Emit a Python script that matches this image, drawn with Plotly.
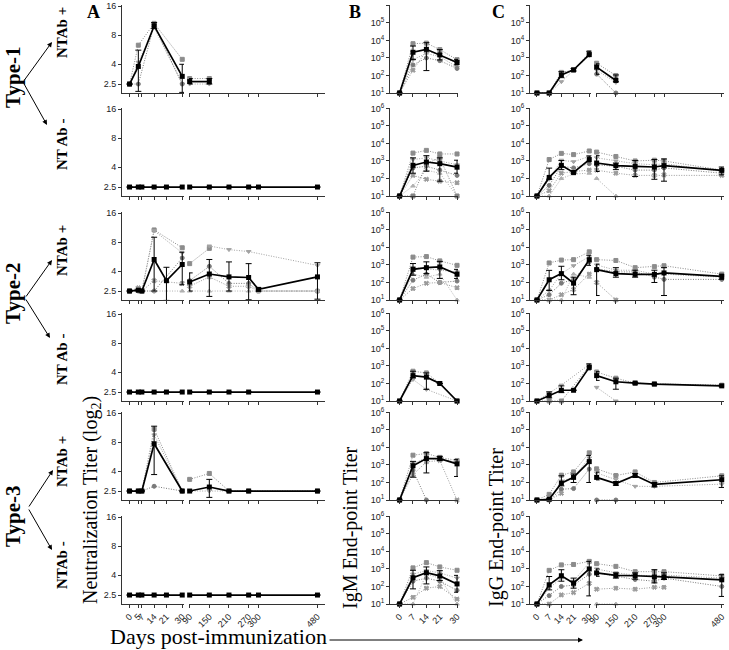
import math
import plotly.graph_objects as go

# days on the (broken) x axes
A_DAYS_L = [0, 5, 7, 14, 21, 30]
A_DAYS_R = [90, 150, 210, 270, 300, 480]
B_DAYS = [0, 7, 14, 21, 30]
C_DAYS_L = [0, 7, 14, 21, 30]
C_DAYS_R = [90, 150, 210, 270, 300, 480]

A_TICKS = ["2.5", "4", "8", "16"]
A_TICKVALS = [2.5, 4, 8, 16]
LOG_TICKVALS = [10, 100, 1000, 10000, 100000, 1000000]
LOG_TICKS = ["10<sup>1</sup>", "10<sup>2</sup>", "10<sup>3</sup>",
             "10<sup>4</sup>", "10<sup>5</sup>", "10<sup>6</sup>"]

ROW_NAMES = ["Type-1", "Type-2", "Type-3"]
NT_LABELS = ["NTAb +", "NT Ab -", "NTAb +", "NT Ab -", "NTAb +", "NTAb -"]

# ---------------- panel A : neutralization titer (log2) ----------------
A1_MEAN_L = [2.5, 3.8, None, 10.0, None, 3.0]
A1_LO_L = [2.5, 2.1, None, 9.4, None, 2.05]
A1_HI_L = [2.5, 5.6, None, 10.8, None, 4.0]
A1_MEAN_R = [2.65, 2.65, None, None, None, None]
A1_LO_R = [2.5, 2.5, None, None, None, None]
A1_HI_R = [2.85, 2.85, None, None, None, None]
A1_IND_L = [[2.5, 6.3, None, 10.6, None, 4.5],
            [2.5, 4.2, None, 9.6, None, 2.5],
            [2.5, 2.5, None, 10.2, None, 2.5]]
A1_IND_R = [[2.85, 2.85, None, None, None, None],
            [2.5, 2.5, None, None, None, None]]

A2_MEAN_L = [2.5, 2.5, 2.5, 2.5, 2.5, 2.5]
A2_MEAN_R = [2.5, 2.5, 2.5, 2.5, 2.5, 2.5]

A3_MEAN_L = [2.5, 2.55, 2.5, 5.3, 3.2, 4.7]
A3_LO_L = [2.5, 2.5, 2.5, 2.5, 2.0, 2.9]
A3_HI_L = [2.5, 2.6, 2.5, 9.0, 4.4, 6.3]
A3_MEAN_R = [3.1, 3.75, 3.5, 3.45, 2.6, 3.5]
A3_LO_R = [2.5, 2.2, 2.5, 2.03, 2.5, 2.06]
A3_HI_R = [3.85, 5.3, 5.0, 4.8, 2.7, 4.9]
A3_IND_L = [[2.5, 2.6, 2.5, 10.7, None, 7.0],
            [2.5, 2.5, 2.5, 10.5, None, 6.2],
            [2.5, 2.5, 2.5, 2.5, None, 5.5],
            [2.5, 2.7, 2.5, 3.2, None, 3.0],
            [2.5, 2.5, 2.5, 2.5, None, 2.5]]
A3_IND_R = [[4.8, 6.9, None, None, None, None],
            [None, 7.3, 6.7, 6.4, None, 4.6],
            [3.2, 4.5, 3.0, 3.0, 2.5, 2.5],
            [2.8, 3.5, 2.8, 2.8, 2.5, 2.5],
            [2.5, 2.5, 2.5, 2.5, 2.5, 2.5]]

A4_MEAN_L = [2.5, 2.5, 2.5, 2.5, 2.5, 2.5]
A4_MEAN_R = [2.5, 2.5, 2.5, 2.5, None, 2.5]

A5_MEAN_L = [2.5, 2.5, 2.5, 7.7, None, 2.5]
A5_LO_L = [2.5, 2.5, 2.5, 3.7, None, 2.5]
A5_HI_L = [2.5, 2.5, 2.5, 11.7, None, 2.5]
A5_MEAN_R = [2.5, 2.75, 2.5, 2.5, None, 2.5]
A5_LO_R = [2.5, 2.15, 2.5, 2.5, None, 2.5]
A5_HI_R = [2.5, 3.3, 2.5, 2.5, None, 2.5]
A5_IND_L = [[2.5, 2.5, 2.5, 10.9, None, 2.5],
            [2.5, 2.5, 2.5, 9.5, None, 2.5],
            [2.5, 2.5, 2.5, 2.8, None, 2.5]]
A5_IND_R = [[3.3, 3.8, 2.5, 2.5, None, 2.5],
            [2.5, 2.5, 2.5, 2.5, None, 2.5]]

A6_MEAN_L = [2.5, 2.5, 2.5, 2.5, 2.5, 2.5]
A6_MEAN_R = [2.5, 2.5, 2.5, 2.5, 2.5, 2.5]

# ---------------- panel B : IgM end-point titer ----------------
B1_MEAN = [10, 2100, 3100, 1500, 550]
B1_LO = [10, 800, 190, 770, 400]
B1_HI = [10, 4800, 7400, 3000, 830]
B1_IND = [[10, 6500, 7000, 3000, 800], [10, 800, 1800, 1200, 300],
          [10, 400, 1000, 700, 250], [10, 200, 2500, 1500, 500]]

B2_MEAN = [10, 560, 870, 700, 440]
B2_LO = [10, 200, 260, 70, 200]
B2_HI = [10, 1500, 2000, 1500, 1100]
B2_IND = [[10, 2800, 4000, 2500, 2500], [10, 1200, 1500, 1000, 600],
          [10, 400, 500, 300, 150], [10, 150, 90, 70, 57],
          [10, 37, 300, 200, 10], [10, 10, 700, 1500, 10]]

B3_MEAN = [10, 560, 700, 770, 295]
B3_LO = [10, 260, 320, 170, 170]
B3_HI = [10, 1200, 1500, 1600, 560]
B3_IND = [[10, 2800, 3000, 1700, 950], [10, 700, 600, 500, 400],
          [10, 135, 300, 100, 120], [10, 45, 90, 100, 50],
          [10, 300, 200, 300, 10]]

B4_MEAN = [10, 280, 230, 100, 10]
B4_LO = [10, 210, 46, 100, 10]
B4_HI = [10, 500, 400, 100, 10]
B4_IND = [[10, 500, 400, 100, 10], [10, 170, 46, None, 10]]

B5_MEAN = [10, 900, 2300, 2300, 1150]
B5_LO = [10, 200, 350, 1800, 220]
B5_HI = [10, 1600, 5000, 3100, 2000]
B5_IND = [[10, 3600, 4500, 2700, 1800], [10, 1200, 2500, 2000, 1500],
          [10, 500, 10, None, None], [10, 280, 1500, 1800, 10]]

B6_MEAN = [10, 316, 610, 400, 140]
B6_LO = [10, 73, 140, 220, 47]
B6_HI = [10, 840, 1300, 800, 430]
B6_IND = [[10, 1150, 2300, 1300, 840], [10, 500, 800, 600, 300],
          [10, 200, 300, 200, 60], [10, 24, 80, 100, 19],
          [10, 10, 500, 300, 10]]

# ---------------- panel C : IgG end-point titer ----------------
C1_MEAN_L = [10, 10, 107, 210, 1550]
C1_LO_L = [10, 10, 75, 180, 1200]
C1_HI_L = [10, 10, 165, 250, 2400]
C1_MEAN_R = [300, 52, None, None, None, None]
C1_LO_R = [117, 44, None, None, None, None]
C1_HI_R = [460, 107, None, None, None, None]
C1_IND_L = [[10, 10, 150, 200, 2000], [10, 10, 44, 200, 1400]]
C1_IND_R = [[500, 100, None, None, None, None], [200, 40, None, None, None, None],
            [120, 10, None, None, None, None]]

C2_MEAN_L = [10, 115, 560, 220, 1200]
C2_LO_L = [10, 90, 320, 200, 900]
C2_HI_L = [10, 390, 1050, 240, 1900]
C2_MEAN_R = [760, 540, 490, 450, 540, 290]
C2_LO_R = [250, 320, 130, 90, 70, 160]
C2_HI_R = [2000, 760, 1050, 1200, 1300, 450]
C2_IND_L = [[10, 1200, 2700, 2300, 3700], [10, 90, 1100, 900, 1800],
            [10, 40, 500, 400, 700], [10, 20, 200, 250, 300],
            [10, 10, 100, 180, 200]]
C2_IND_R = [[3200, 1800, 1000, 1100, 1000, 300], [1500, 1000, 700, 600, 700, 250],
            [600, 500, 300, 300, 400, 200], [300, 200, 150, 150, 160, 150],
            [100, 10, None, None, None, None]]

C3_MEAN_L = [10, 143, 320, 91, 2000]
C3_LO_L = [10, 35, 143, 20, 950]
C3_HI_L = [10, 490, 840, 200, 3600]
C3_MEAN_R = [540, 320, 290, 290, 350, 220]
C3_LO_R = [18, 200, 200, 100, 18, 150]
C3_HI_R = [1100, 700, 500, 500, 700, 300]
C3_IND_L = [[10, 1300, 1900, 2000, 5600], [10, 35, 320, 900, 3000],
            [10, 20, 91, 150, 1500], [10, 10, 20, 40, 300],
            [10, 10, 10, 300, 200]]
C3_IND_R = [[2000, 1800, 700, 800, 900, 300], [1000, 500, 500, 300, 300, 200],
            [600, 400, 400, 200, 150, 150], [100, 10, None, None, None, None]]

C4_MEAN_L = [10, 21, 41, 41, 830]
C4_LO_L = [10, 15, 30, 41, 600]
C4_HI_L = [10, 33, 73, 41, 1300]
C4_MEAN_R = [280, 125, 105, 92, None, 73]
C4_LO_R = [150, 47, 95, 85, None, 65]
C4_HI_R = [470, 200, 115, 100, None, 82]
C4_IND_L = [[10, 10, 10, None, 1000], [10, 30, 80, None, 1200]]
C4_IND_R = [[450, 200, 105, 95, None, 80], [60, 10, None, None, None, None]]

C5_MEAN_L = [10, 11, 91, 195, 1550]
C5_LO_L = [10, 10, 64, 100, 100]
C5_HI_L = [10, 12, 240, 300, 3500]
C5_MEAN_R = [195, 87, 250, 77, None, 143]
C5_LO_R = [140, 70, 200, 55, None, 52]
C5_HI_R = [390, 110, 320, 100, None, 240]
C5_IND_L = [[10, 21, 260, 400, 4900], [10, 10, 120, 200, 2500],
            [10, 10, 41, 45, 580], [10, 10, 24, None, None]]
C5_IND_R = [[600, 250, 400, 100, None, 240], [350, 150, 60, 60, None, 80],
            [10, 10, None, None, None, None]]

C6_MEAN_L = [10, 125, 410, 155, 1000]
C6_LO_L = [10, 64, 200, 80, 29]
C6_HI_L = [10, 370, 900, 300, 2700]
C6_MEAN_R = [590, 430, 410, 350, 350, 240]
C6_LO_R = [380, 300, 260, 160, 250, 27]
C6_HI_R = [1000, 600, 600, 900, 600, 470]
C6_IND_L = [[10, 830, 1700, 1800, 2700], [10, 80, 300, 200, 2300],
            [10, 30, 100, 120, 500], [10, 10, 33, 45, 150]]
C6_IND_R = [[2000, 1400, 700, 700, 700, 400], [1000, 600, 450, 400, 450, 300],
            [600, 400, 250, 200, 300, 100], [70, 80, 70, 90, 90, None],
            [10, 10, None, None, None, None]]

A_ROWS = [
    (A1_MEAN_L, A1_LO_L, A1_HI_L, A1_IND_L, A1_MEAN_R, A1_LO_R, A1_HI_R, A1_IND_R),
    (A2_MEAN_L, A2_MEAN_L, A2_MEAN_L, [], A2_MEAN_R, A2_MEAN_R, A2_MEAN_R, []),
    (A3_MEAN_L, A3_LO_L, A3_HI_L, A3_IND_L, A3_MEAN_R, A3_LO_R, A3_HI_R, A3_IND_R),
    (A4_MEAN_L, A4_MEAN_L, A4_MEAN_L, [], A4_MEAN_R, A4_MEAN_R, A4_MEAN_R, []),
    (A5_MEAN_L, A5_LO_L, A5_HI_L, A5_IND_L, A5_MEAN_R, A5_LO_R, A5_HI_R, A5_IND_R),
    (A6_MEAN_L, A6_MEAN_L, A6_MEAN_L, [], A6_MEAN_R, A6_MEAN_R, A6_MEAN_R, []),
]
B_ROWS = [(B1_MEAN, B1_LO, B1_HI, B1_IND), (B2_MEAN, B2_LO, B2_HI, B2_IND),
          (B3_MEAN, B3_LO, B3_HI, B3_IND), (B4_MEAN, B4_LO, B4_HI, B4_IND),
          (B5_MEAN, B5_LO, B5_HI, B5_IND), (B6_MEAN, B6_LO, B6_HI, B6_IND)]
C_ROWS = [
    (C1_MEAN_L, C1_LO_L, C1_HI_L, C1_IND_L, C1_MEAN_R, C1_LO_R, C1_HI_R, C1_IND_R),
    (C2_MEAN_L, C2_LO_L, C2_HI_L, C2_IND_L, C2_MEAN_R, C2_LO_R, C2_HI_R, C2_IND_R),
    (C3_MEAN_L, C3_LO_L, C3_HI_L, C3_IND_L, C3_MEAN_R, C3_LO_R, C3_HI_R, C3_IND_R),
    (C4_MEAN_L, C4_LO_L, C4_HI_L, C4_IND_L, C4_MEAN_R, C4_LO_R, C4_HI_R, C4_IND_R),
    (C5_MEAN_L, C5_LO_L, C5_HI_L, C5_IND_L, C5_MEAN_R, C5_LO_R, C5_HI_R, C5_IND_R),
    (C6_MEAN_L, C6_LO_L, C6_HI_L, C6_IND_L, C6_MEAN_R, C6_LO_R, C6_HI_R, C6_IND_R),
]

# ---------------- layout helpers ----------------
W, H = 729, 650
ROW_TOP = [5, 108, 212, 313, 412, 516]
ROW_H = 88
GRAYS = ["#8c8c8c", "#a3a3a3", "#7a7a7a", "#9a9a9a", "#b0b0b0", "#858585"]
SYMBOLS = ["square", "triangle-down", "circle", "x", "triangle-up", "square"]
SERIF = "Liberation Serif"
SANS = "Liberation Sans"
RED = "#e3262b"


def px(x):
    return x / W


def py(y):
    return 1 - y / H


lay = dict(width=W, height=H,
           margin=dict(l=0, r=0, t=0, b=0, pad=0, autoexpand=False),
           paper_bgcolor="white", plot_bgcolor="white", showlegend=False)
counts = {"x": 0, "y": 0}
AX = dict(showline=True, linecolor="#333", linewidth=1, ticks="outside", ticklen=3,
          tickcolor="#333", showgrid=False, zeroline=False, fixedrange=True,
          automargin=False, tickfont=dict(family=SANS, size=9, color="#222"))


def new_axis(letter, **kw):
    counts[letter] += 1
    n = counts[letter]
    suffix = "" if n == 1 else str(n)
    d = dict(AX)
    d.update(kw)
    lay[letter + "axis" + suffix] = d
    return letter + suffix, letter + "axis" + suffix


def err(mean, lo, hi):
    plus = [(h - m) if m is not None else 0 for m, h in zip(mean, hi)]
    minus = [(m - l) if m is not None else 0 for m, l in zip(mean, lo)]
    return plus, minus


fig = go.Figure()


def add_group(days, mean, lo, hi, inds, xa, ya):
    for k, ind in enumerate(inds):
        g = GRAYS[k % len(GRAYS)]
        fig.add_trace(go.Scatter(
            x=days, y=ind, mode="lines+markers", connectgaps=True, cliponaxis=False,
            line=dict(color=g, width=1, dash="1px,1.5px"),
            marker=dict(symbol=SYMBOLS[k % len(SYMBOLS)], size=4, color=g,
                        line=dict(color=g, width=1)),
            xaxis=xa, yaxis=ya, hoverinfo="skip"))
    plus, minus = err(mean, lo, hi)
    fig.add_trace(go.Scatter(
        x=days, y=mean, mode="lines+markers", connectgaps=True, cliponaxis=False,
        line=dict(color="black", width=1.7),
        marker=dict(symbol="square", size=5, color="black"),
        error_y=dict(type="data", array=plus, arrayminus=minus, color="black",
                     thickness=1, width=3),
        xaxis=xa, yaxis=ya, hoverinfo="skip"))


shapes = []
for r in range(6):
    top = ROW_TOP[r]
    dom = [py(top + ROW_H), py(top)]
    last = r == 5

    # ---- panel A
    ya, yk = new_axis("y", type="log", domain=dom,
                      range=[math.log10(2.02), math.log10(16.4)],
                      tickmode="array", tickvals=A_TICKVALS, ticktext=A_TICKS)
    xl, _ = new_axis("x", domain=[px(122), px(184)], range=[-4.3, 31], anchor=ya,
                     tickmode="array", tickvals=A_DAYS_L,
                     ticktext=[str(d) for d in A_DAYS_L],
                     showticklabels=last, tickangle=-45)
    xr, _ = new_axis("x", domain=[px(189), px(325)], range=[88, 503], anchor=ya,
                     tickmode="array", tickvals=A_DAYS_R,
                     ticktext=[str(d) for d in A_DAYS_R],
                     showticklabels=last, tickangle=-45)
    lay[yk]["anchor"] = xl
    shapes.append(dict(type="line", xref="paper", yref=ya, x0=px(122), x1=px(325),
                       y0=math.log10(2.5), y1=math.log10(2.5),
                       line=dict(color=RED, width=1.2, dash="1px,1.5px")))
    mL, lL, hL, iL, mR, lR, hR, iR = A_ROWS[r]
    add_group(A_DAYS_L, mL, lL, hL, iL, xl, ya)
    add_group(A_DAYS_R, mR, lR, hR, iR, xr, ya)

    # ---- panel B
    yb, ykb = new_axis("y", type="log", domain=dom, range=[1, 6.02],
                       tickmode="array", tickvals=LOG_TICKVALS, ticktext=LOG_TICKS)
    xb, _ = new_axis("x", domain=[px(390), px(458)], range=[-5, 30.5], anchor=yb,
                     tickmode="array", tickvals=B_DAYS,
                     ticktext=[str(d) for d in B_DAYS],
                     showticklabels=last, tickangle=-45)
    lay[ykb]["anchor"] = xb
    shapes.append(dict(type="line", xref="paper", yref=yb, x0=px(390), x1=px(458),
                       y0=math.log10(20), y1=math.log10(20),
                       line=dict(color=RED, width=1.2, dash="1px,1.5px")))
    m, l, h, i = B_ROWS[r]
    add_group(B_DAYS, m, l, h, i, xb, yb)

    # ---- panel C
    yc, ykc = new_axis("y", type="log", domain=dom, range=[1, 6.02],
                       tickmode="array", tickvals=LOG_TICKVALS, ticktext=LOG_TICKS)
    xcl, _ = new_axis("x", domain=[px(530), px(591)], range=[-4, 31], anchor=yc,
                      tickmode="array", tickvals=C_DAYS_L,
                      ticktext=[str(d) for d in C_DAYS_L],
                      showticklabels=last, tickangle=-45)
    xcr, _ = new_axis("x", domain=[px(596), px(724)], range=[88, 487], anchor=yc,
                      tickmode="array", tickvals=C_DAYS_R,
                      ticktext=[str(d) for d in C_DAYS_R],
                      showticklabels=last, tickangle=-45)
    lay[ykc]["anchor"] = xcl
    shapes.append(dict(type="line", xref="paper", yref=yc, x0=px(530), x1=px(724),
                       y0=math.log10(20), y1=math.log10(20),
                       line=dict(color=RED, width=1.2, dash="1px,1.5px")))
    mL, lL, hL, iL, mR, lR, hR, iR = C_ROWS[r]
    add_group(C_DAYS_L, mL, lL, hL, iL, xcl, yc)
    add_group(C_DAYS_R, mR, lR, hR, iR, xcr, yc)

# ---------------- text ----------------
ann = []


def text(x, y, s, size, bold=False, angle=0, family=SERIF):
    ann.append(dict(x=px(x), y=py(y), xref="paper", yref="paper", text=s,
                    showarrow=False, textangle=angle, xanchor="center", yanchor="middle",
                    font=dict(family=family, size=size, color="black",
                              weight="bold" if bold else "normal")))


def arrow(tx, ty, hx, hy):
    ann.append(dict(x=px(hx), y=py(hy), xref="paper", yref="paper", text="",
                    showarrow=True, ax=tx - hx, ay=ty - hy, arrowhead=2, arrowsize=1,
                    arrowwidth=1, arrowcolor="black", standoff=0))


text(94, 12, "A", 18, bold=True)
text(355, 12, "B", 18, bold=True)
text(498, 12, "C", 18, bold=True)

for name, yc_, tail, h1, h2 in zip(ROW_NAMES, [78, 294, 517],
                                   [(23, 82), (25, 298), (28, 508)],
                                   [(52, 42), (52, 260), (53, 470)],
                                   [(47, 125), (50, 338), (52, 550)]):
    text(13, yc_, name, 21, bold=True, angle=-90)
    arrow(tail[0], tail[1], h1[0], h1[1])
    arrow(tail[0], tail[1], h2[0], h2[1])

for lab, yc_ in zip(NT_LABELS, [33, 145, 251, 360, 462, 565]):
    text(62, yc_, lab, 15, bold=True, angle=-90)

text(91, 500, "Neutralization Titer (log<sub>2</sub>)", 20, angle=-90)
text(350, 528, "IgM End-point Titer", 20, angle=-90)
text(496, 528, "IgG End-point Titer", 20, angle=-90)
text(218, 636, "Days post-immunization", 22)
arrow(328, 640, 583, 640)

lay["annotations"] = ann
lay["shapes"] = shapes
fig.update_layout(**lay)
# the default page body has an 8px margin; remove it so the figure fills the window
fig.write_html("out.html", config={"displayModeBar": False},
               post_script="document.body.style.margin='0';")
